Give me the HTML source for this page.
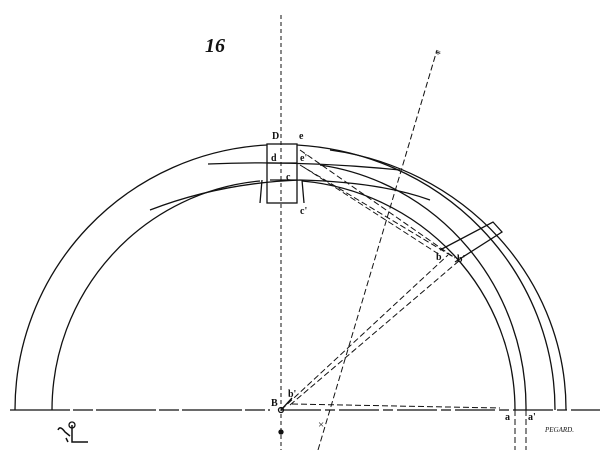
<!DOCTYPE html>
<html><head><meta charset="utf-8"><style>
html,body{margin:0;padding:0;background:#fff;width:600px;height:450px;overflow:hidden}
svg{display:block}
text{font-family:"Liberation Serif",serif;fill:#111}
</style></head><body>
<svg width="600" height="450" viewBox="0 0 600 450" fill="none" stroke="#111" stroke-width="1.3">
<text x="205" y="52" font-size="20" font-style="italic" font-weight="bold" stroke="none">16</text>
<!-- ground line -->
<line x1="10" y1="410" x2="270" y2="410" stroke-dasharray="60 3 20 3"/>
<line x1="281" y1="410" x2="600" y2="410" stroke-dasharray="40 4 10 4"/>
<!-- vertical axis -->
<line x1="281" y1="15" x2="281" y2="450" stroke-width="1" stroke-dasharray="4 3"/>
<!-- outer arch -->
<path d="M15 410 A266 265 0 0 1 267 145"/>
<path d="M297 145 A274 265 0 0 1 555 410"/>
<path d="M52 410 A229 230 0 0 1 260 181"/>
<path d="M302 181 A234 230 0 0 1 515 410"/>
<path d="M330 150 A275 262 0 0 1 566 410"/>
<path d="M320 165 A240 245 0 0 1 526 410"/>
<!-- bands -->
<path d="M208 164 Q300 160 400 170"/>
<path d="M150 210 Q220 183 300 180 Q380 182 430 200"/>
<!-- keystone -->
<rect x="267" y="144" width="30" height="59"/>
<line x1="267" y1="163" x2="297" y2="163"/>
<line x1="270" y1="180" x2="297" y2="180"/>
<path d="M262 180 L260 203 M302 180 L304 203"/>
<!-- dashed construction lines -->
<g stroke-dasharray="6 3" stroke-width="1">
<line x1="300" y1="150" x2="455" y2="258"/>
<line x1="300" y1="165" x2="455" y2="258"/>
<line x1="305" y1="168" x2="440" y2="255"/>
<line x1="281" y1="410" x2="448" y2="255"/>
<line x1="290" y1="405" x2="460" y2="260"/>
<line x1="292" y1="404" x2="500" y2="408"/>
<line x1="318" y1="450" x2="437" y2="50"/>
<line x1="515" y1="410" x2="515" y2="450"/>
<line x1="526" y1="410" x2="526" y2="450"/>
</g>
<path d="M440 250 L493 222 L502 232 L455 262"/>
<line x1="281" y1="410" x2="292" y2="398"/>
<circle cx="281" cy="410" r="2.5"/>
<circle cx="281" cy="432" r="2" fill="#111"/>
<text x="435" y="58" font-size="12" stroke="none">*</text>
<text x="318" y="428" font-size="11" stroke="none">×</text>
<g stroke="none" font-size="10" font-weight="bold">
<text x="272" y="139">D</text><text x="299" y="139">e</text>
<text x="271" y="161">d</text><text x="300" y="161">e'</text>
<text x="286" y="180">c</text><text x="300" y="214">c'</text>
<text x="436" y="260">b</text><text x="457" y="262">b'</text>
<text x="288" y="397">b'</text><text x="271" y="406">B</text>
<text x="505" y="420">a</text><text x="528" y="420">a'</text>
</g>
<text x="545" y="432" font-size="7" font-style="italic" stroke="none">PEGARD.</text>
<path d="M58 430 Q60 425 65 432 L70 436 M72 425 L72 442 L88 442 M68 442 L66 438" stroke-width="1.5"/>
<circle cx="72" cy="425" r="3" stroke-width="1.3"/>
</svg>
</body></html>
